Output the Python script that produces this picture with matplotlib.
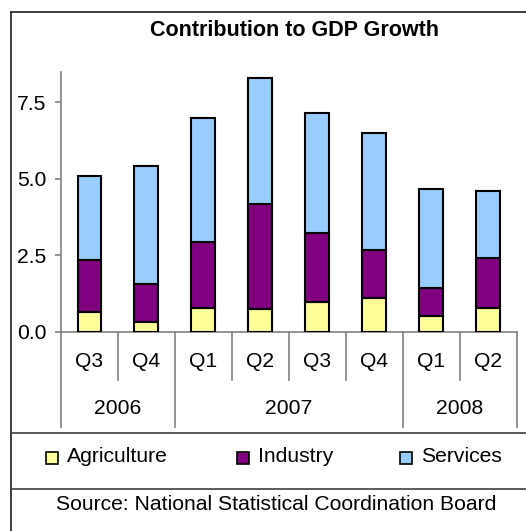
import matplotlib
matplotlib.use('Agg')
import matplotlib.pyplot as plt
from matplotlib.lines import Line2D
from matplotlib.patches import Rectangle
import matplotlib.transforms as mtrans
import numpy as np

plt.rcParams['font.family'] = ['Liberation Sans', 'DejaVu Sans']

# data (percentage points)
quarters = ['Q3', 'Q4', 'Q1', 'Q2', 'Q3', 'Q4', 'Q1', 'Q2']
years = ['2006', '2007', '2008']
year_spans = [(0, 2), (2, 6), (6, 8)]      # category index ranges per year
agriculture = [0.65, 0.33, 0.76, 0.73, 0.97, 1.10, 0.51, 0.77]
industry = [1.69, 1.23, 2.18, 3.44, 2.25, 1.57, 0.93, 1.65]
services = [2.76, 3.87, 4.06, 4.14, 3.92, 3.81, 3.21, 2.17]
series = ['Agriculture', 'Industry', 'Services']
colors = ['#FFFF99', '#800080', '#99CCFF']

FS = 15.2
W, H = 526, 531
def fx(px): return px / W
def fy(py): return 1 - py / H

fig = plt.figure(figsize=(W / 100, H / 100), dpi=100)
ax = fig.add_axes([fx(61), fy(331.7), fx(516.7) - fx(61), (331.7 - 71.7) / H])

x = np.arange(len(quarters))
bottom = np.zeros(len(x))
for vals, c in zip([agriculture, industry, services], colors):
    ax.bar(x, vals, width=0.42, bottom=bottom, color=c, edgecolor='black',
           linewidth=1.5, zorder=3)
    bottom += np.array(vals)

ax.set_xlim(-0.5, len(x) - 0.5)
ax.set_ylim(0, 8.5)
ax.set_yticks([0, 2.5, 5.0, 7.5])
ax.set_yticklabels(['0.0', '2.5', '5.0', '7.5'])
ax.set_xticks([])
for s in ['top', 'right']:
    ax.spines[s].set_visible(False)
for s in ['left', 'bottom']:
    ax.spines[s].set_color('#808080')
    ax.spines[s].set_linewidth(1.2)
ax.tick_params(axis='y', length=4.5, width=1.2, color='#808080',
               labelsize=FS, pad=6)

# two-level category axis
tr = mtrans.blended_transform_factory(ax.transData, ax.transAxes)
span = 331.7 - 71.7
q_depth = (331.7 - 380) / span
y_depth = (331.7 - 426.7) / span
year_edges = {a for a, b in year_spans} | {b for a, b in year_spans}
for i in range(len(x) + 1):
    low = y_depth if i in year_edges else q_depth
    ax.add_line(Line2D([i - 0.5, i - 0.5], [0, low], transform=tr,
                       color='#808080', lw=1.2, clip_on=False))
for i, q in enumerate(quarters):
    ax.text(i, (331.7 - 361.7) / span, q, transform=tr,
            ha='center', va='center', fontsize=FS)
for yr, (a, b) in zip(years, year_spans):
    ax.text((a + b - 1) / 2, (331.7 - 408) / span, yr, transform=tr,
            ha='center', va='center', fontsize=FS)

# outer frame and separators
fig.add_artist(Line2D([fx(11), fx(11)], [fy(12), 0], color='#303030', lw=1.3))
fig.add_artist(Line2D([fx(11), 1], [fy(12), fy(12)], color='#303030', lw=1.3))
fig.add_artist(Line2D([fx(11), 1], [fy(433.3), fy(433.3)], color='#404040', lw=1.2))
fig.add_artist(Line2D([fx(11), 1], [fy(489.3), fy(489.3)], color='#404040', lw=1.2))

fig.text(fx(295), fy(31), 'Contribution to GDP Growth', ha='center', va='center',
         fontsize=15.5, fontweight='bold')

# legend
for name, c, mx, tx in zip(series, colors, [46, 237, 400], [67, 258, 421]):
    fig.add_artist(Rectangle((fx(mx), fy(464)), 12 / W, 12 / H, facecolor=c,
                             edgecolor='black', lw=1.2, transform=fig.transFigure))
    fig.text(fx(tx), fy(457), name, ha='left', va='center', fontsize=FS)

fig.text(fx(276), fy(505), 'Source: National Statistical Coordination Board',
         ha='center', va='center', fontsize=FS)

fig.savefig('out.png', dpi=100, facecolor='white')
